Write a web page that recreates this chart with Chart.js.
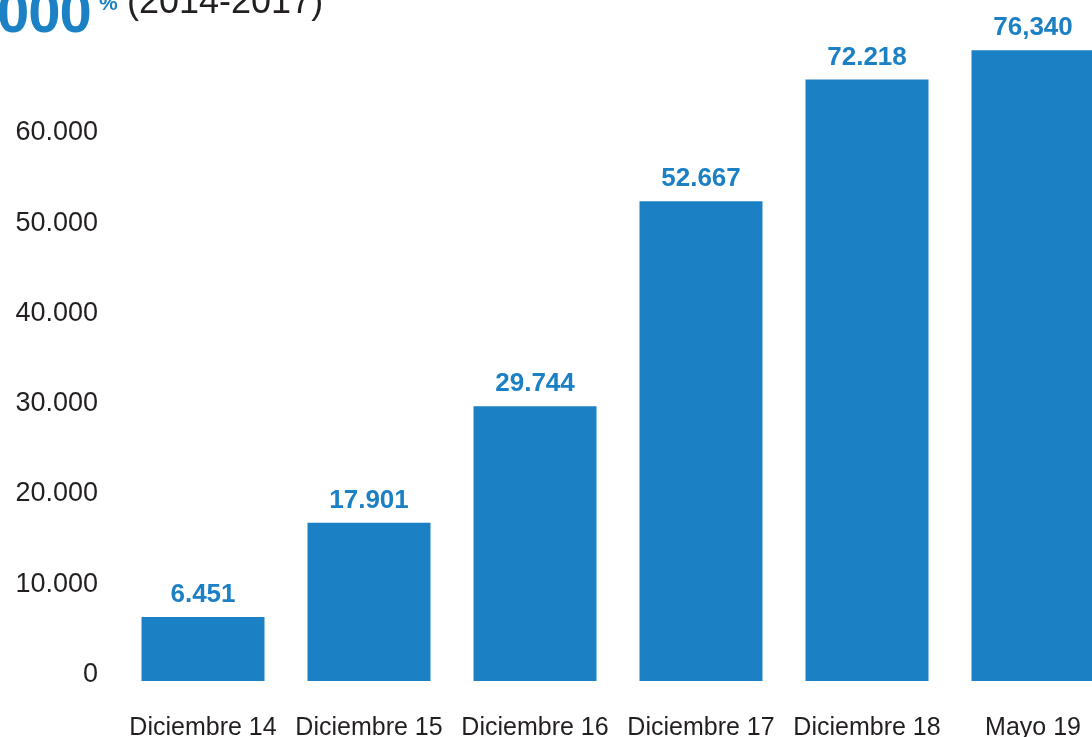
<!DOCTYPE html>
<html>
<head>
<meta charset="utf-8">
<script src="https://cdn.jsdelivr.net/npm/chart.js@4/dist/chart.umd.min.js"></script>
<style>
  html, body { margin: 0; padding: 0; background: #ffffff; overflow: hidden; }
  #wrap { position: relative; width: 1130px; height: 737px; }
  #chart { position: absolute; left: 0; top: 0; }
  .t { position: absolute; white-space: nowrap; line-height: 1; font-family: 'Liberation Sans', Arial, sans-serif; }
  #big { left: -3px; top: -17px; font-size: 58px; font-weight: bold; color: #1c80c4; letter-spacing: -1px; }
  #pct { left: 99px; top: -8px; font-size: 21px; font-weight: bold; color: #1c80c4; }
  #yrs { left: 127px; top: -17px; font-size: 36px; color: #231f20; }
</style>
</head>
<body>
<div id="wrap">
  <canvas id="chart" width="1130" height="737"></canvas>
  <div class="t" id="big">000</div>
  <div class="t" id="pct">%</div>
  <div class="t" id="yrs">(2014-2017)</div>
</div>
<script>
const categories = ['Diciembre 14', 'Diciembre 15', 'Diciembre 16', 'Diciembre 17', 'Diciembre 18', 'Mayo 19'];
const barValues = [7090, 17530, 30450, 53160, 66630, 69880];
const valueLabels = ['6.451', '17.901', '29.744', '52.667', '72.218', '76,340'];
const yTickValues = [0, 10000, 20000, 30000, 40000, 50000, 60000];
const yTickLabels = ['0', '10.000', '20.000', '30.000', '40.000', '50.000', '60.000'];

const BLUE = '#1c80c4';
const TEXT = '#231f20';
const FONT = "'Liberation Sans', Arial, sans-serif";

const valueLabelPlugin = {
  id: 'valueLabels',
  afterDatasetsDraw(chart) {
    const ctx = chart.ctx;
    const meta = chart.getDatasetMeta(0);
    ctx.save();
    ctx.font = 'bold 26px ' + FONT;
    ctx.fillStyle = BLUE;
    ctx.textAlign = 'center';
    ctx.textBaseline = 'middle';
    meta.data.forEach((bar, i) => {
      ctx.fillText(valueLabels[i], bar.x, bar.y - 22);
    });
    ctx.restore();
  }
};

new Chart(document.getElementById('chart'), {
  type: 'bar',
  data: {
    labels: categories,
    datasets: [{
      data: barValues,
      backgroundColor: BLUE,
      borderWidth: 0,
      barPercentage: 0.741,
      categoryPercentage: 1.0
    }]
  },
  options: {
    responsive: false,
    animation: false,
    devicePixelRatio: 1,
    layout: { padding: { left: 0, right: 14, top: 4, bottom: 0 } },
    plugins: { legend: { display: false }, tooltip: { enabled: false }, title: { display: false } },
    scales: {
      x: {
        grid: { display: false, drawTicks: false },
        border: { display: false },
        ticks: { color: TEXT, font: { family: FONT, size: 25 }, padding: 32, maxRotation: 0, autoSkip: false },
        afterFit(scale) { scale.height = 56; scale.paddingLeft = 0; scale.paddingRight = 0; }
      },
      y: {
        min: 0,
        max: 75000,
        grid: { display: false, drawTicks: false },
        border: { display: false },
        afterBuildTicks(scale) { scale.ticks = yTickValues.map(v => ({ value: v })); },
        ticks: {
          color: TEXT,
          padding: 22,
          font: { family: FONT, size: 27, lineHeight: '13px' },
          callback(value) {
            const i = yTickValues.indexOf(value);
            return i < 0 ? '' : [yTickLabels[i], ''];
          }
        },
        afterFit(scale) { scale.width = 120; scale.paddingTop = 0; scale.paddingBottom = 0; }
      }
    }
  },
  plugins: [valueLabelPlugin]
});
</script>
</body>
</html>
